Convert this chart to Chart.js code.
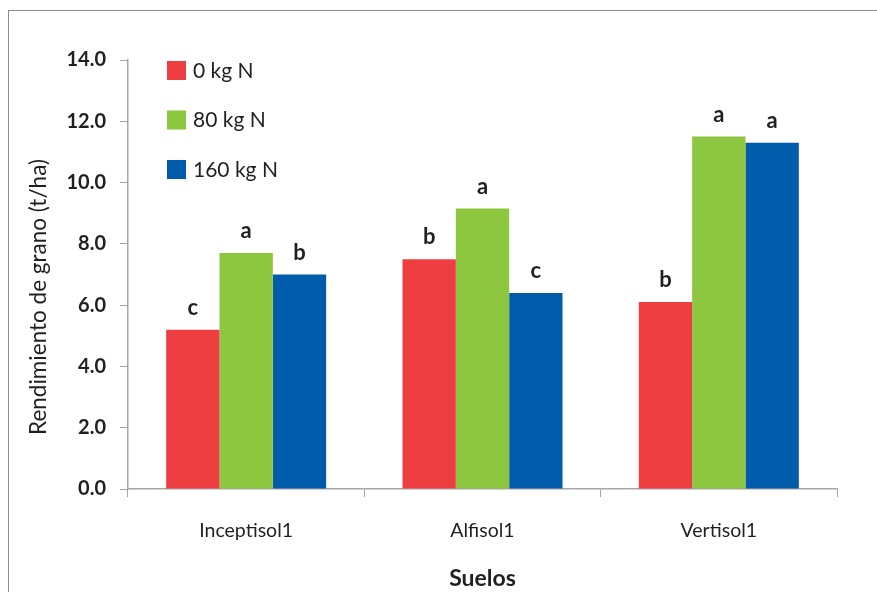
<!DOCTYPE html>
<html>
<head>
<meta charset="utf-8">
<script src="https://cdn.jsdelivr.net/npm/chart.js@4"></script>
<style>
  html, body { margin: 0; padding: 0; background: #fff; }
  #wrap { width: 877px; height: 592px; }
</style>
</head>
<body>
<div id="wrap"><canvas id="chart"></canvas></div>
<script>
var suelos = ["Inceptisol1", "Alfisol1", "Vertisol1"];
var dosis = ["0 kg N", "80 kg N", "160 kg N"];
var n0 = [5.2, 7.5, 6.1];
var n80 = [7.7, 9.15, 11.5];
var n160 = [7.0, 6.4, 11.3];
var letras0 = ["c", "b", "b"];
var letras80 = ["a", "a", "a"];
var letras160 = ["b", "c", "a"];
var yTicks = [0, 2, 4, 6, 8, 10, 12, 14];
var yTitulo = "Rendimiento de grano (t/ha)";

var colores = ["#ef3e42", "#8dc63f", "#005baa"];
var textColor = "#231f20";
var axisColor = "#a6a6a6";
var fontName = "Lato, 'Liberation Sans', sans-serif";

// marco gris alrededor del grafico + titulo del eje y
var frame = {
  id: "frame",
  beforeDraw: function (chart) {
    var ctx = chart.ctx;
    ctx.save();
    ctx.fillStyle = "#fff";
    ctx.fillRect(0, 0, chart.width, chart.height);
    ctx.strokeStyle = "#8c8c8c";
    ctx.lineWidth = 1;
    ctx.strokeRect(8.5, 10.5, 1000, 1000);
    ctx.restore();
  },
  afterDraw: function (chart) {
    var ctx = chart.ctx;
    ctx.save();
    ctx.translate(39, 297);
    ctx.rotate(-Math.PI / 2);
    ctx.font = "22.5px " + fontName;
    ctx.fillStyle = textColor;
    ctx.textAlign = "center";
    ctx.textBaseline = "middle";
    ctx.fillText(yTitulo, 0, 0);
    ctx.restore();
  }
};

// letras de significancia sobre cada barra
var letras = {
  id: "letras",
  afterDatasetsDraw: function (chart) {
    var ctx = chart.ctx;
    var sets = [letras0, letras80, letras160];
    ctx.save();
    ctx.font = "bold 22px " + fontName;
    ctx.fillStyle = textColor;
    ctx.textAlign = "center";
    ctx.textBaseline = "alphabetic";
    chart.data.datasets.forEach(function (ds, i) {
      chart.getDatasetMeta(i).data.forEach(function (bar, j) {
        ctx.fillText(sets[i][j], bar.x, bar.y - 15);
      });
    });
    ctx.restore();
  }
};

// leyenda vertical dentro del area del grafico
var leyenda = {
  id: "leyenda",
  afterDraw: function (chart) {
    var ctx = chart.ctx;
    var a = chart.chartArea;
    ctx.save();
    ctx.font = "21px " + fontName;
    ctx.textBaseline = "middle";
    chart.data.datasets.forEach(function (ds, i) {
      var y = a.top + 1 + i * 49.5;
      ctx.fillStyle = ds.backgroundColor;
      ctx.fillRect(a.left + 39, y, 19, 19);
      ctx.fillStyle = textColor;
      ctx.fillText(ds.label, a.left + 65, y + 10);
    });
    ctx.restore();
  }
};

new Chart(document.getElementById("chart"), {
  type: "bar",
  data: {
    labels: suelos,
    datasets: [
      { label: dosis[0], data: n0, backgroundColor: colores[0] },
      { label: dosis[1], data: n80, backgroundColor: colores[1] },
      { label: dosis[2], data: n160, backgroundColor: colores[2] }
    ]
  },
  options: {
    responsive: true,
    maintainAspectRatio: false,
    animation: false,
    categoryPercentage: 0.677,
    barPercentage: 1,
    layout: { padding: { left: 20, top: 60, right: 40, bottom: 0 } },
    plugins: {
      legend: { display: false },
      tooltip: { enabled: false }
    },
    scales: {
      x: {
        grid: {
          display: true,
          drawOnChartArea: false,
          drawTicks: true,
          tickLength: 8,
          color: axisColor,
          offset: true
        },
        border: { color: axisColor, width: 1.5 },
        ticks: {
          color: textColor,
          font: { family: fontName, size: 19.5 },
          padding: 22
        },
        title: {
          display: true,
          text: "Suelos",
          color: textColor,
          font: { family: fontName, size: 23, weight: "bold" },
          padding: { top: 10, bottom: 0 }
        },
        afterFit: function (scale) { scale.height = 103; }
      },
      y: {
        min: 0,
        max: 14,
        afterBuildTicks: function (scale) {
          scale.ticks = yTicks.map(function (v) { return { value: v }; });
        },
        grid: {
          display: true,
          drawOnChartArea: false,
          drawTicks: true,
          tickLength: 8,
          color: axisColor
        },
        border: { color: axisColor, width: 1.5 },
        ticks: {
          color: textColor,
          font: { family: fontName, size: 20, weight: "bold" },
          padding: 14,
          callback: function (v) { return Number(v).toFixed(1); }
        },
        title: { display: false },
        afterFit: function (scale) { scale.width = 108; }
      }
    }
  },
  plugins: [frame, letras, leyenda]
});
</script>
</body>
</html>
